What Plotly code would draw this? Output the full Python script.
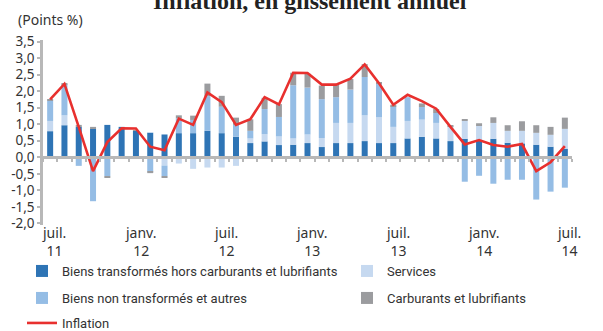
import plotly.graph_objects as go

# Monthly contributions to year-on-year inflation, July 2011 - July 2014 (points of %)
months = list(range(37))

biens_transformes = [0.79, 0.97, 0.92, 0.86, 0.98, 0.92, 0.80, 0.74, 0.69, 0.73,
                     0.73, 0.80, 0.73, 0.62, 0.43, 0.48, 0.37, 0.38, 0.43, 0.31,
                     0.43, 0.43, 0.49, 0.43, 0.43, 0.57, 0.62, 0.57, 0.49, 0.56,
                     0.50, 0.56, 0.44, 0.42, 0.38, 0.32, 0.26]
services = [0.31, 0.30, 0.0, 0.0, 0.0, 0.0, 0.0, 0.02, -0.25, -0.19,
            -0.35, -0.31, -0.31, -0.26, 0.14, 0.22, 0.26, 0.19, 0.26, 0.27,
            0.61, 0.61, 0.78, 0.78, 0.49, 0.53, 0.52, 0.47, 0.45, 0.54,
            0.47, 0.48, 0.36, 0.38, 0.36, 0.36, 0.60]
biens_non_transformes = [0.61, 0.94, -0.26, -1.33, -0.57, 0.0, 0.0, -0.43, -0.32, 0.45,
                         0.40, 1.05, 0.80, 0.36, 0.23, 0.76, 0.59, 1.61, 1.42, 1.18,
                         0.78, 1.01, 1.16, 1.01, 0.62, 0.72, 0.38, 0.30, 0.0, -0.74,
                         -0.56, -0.80, -0.68, -0.68, -1.28, -1.04, -0.92]
carburants = [0.04, 0.03, 0.06, 0.06, -0.03, -0.05, 0.02, -0.05, -0.04, 0.09,
              0.13, 0.38, 0.33, 0.22, 0.35, 0.34, 0.39, 0.38, 0.42, 0.41,
              0.38, 0.32, 0.39, 0.03, 0.05, 0.0, 0.11, 0.12, 0.03, 0.05,
              0.06, 0.17, 0.17, 0.29, 0.23, 0.24, 0.34]
inflation = [1.75, 2.22, 0.92, -0.42, 0.46, 0.88, 0.87, 0.32, 0.21, 1.17,
             0.98, 1.96, 1.67, 0.98, 1.15, 1.82, 1.60, 2.56, 2.55, 2.20,
             2.20, 2.38, 2.81, 2.24, 1.59, 1.89, 1.70, 1.47, 0.92, 0.39,
             0.52, 0.37, 0.32, 0.40, -0.42, -0.15, 0.34]

tick_positions = [0, 6, 12, 18, 24, 30, 36]
tick_labels = ["juil.<br>11", "janv.<br>12", "juil.<br>12", "janv.<br>13",
               "juil.<br>13", "janv.<br>14", "juil.<br>14"]
y_ticks = [3.5, 3.0, 2.5, 2.0, 1.5, 1.0, 0.5, 0.0, -0.5, -1.0, -1.5, -2.0]
y_tick_text = ["3,5", "3,0", "2,5", "2,0", "1,5", "1,0", "0,5", "0,0",
               "-0,5", "-1,0", "-1,5", "-2,0"]

W, H = 603, 331
M_L, M_R, M_T, M_B = 43, 31, 40, 106
Y_MIN, Y_MAX = -2.05, 3.55
plot_h = H - M_T - M_B


def paper_y(py):
    """Convert a pixel row (from the top of the page) to paper coordinates."""
    return (H - M_B - py) / plot_h


def paper_x(px):
    return (px - M_L) / (W - M_L - M_R)


TEXT = "#333333"
SANS = "Noto Sans, Open Sans, sans-serif"
NARROW = "Roboto, Liberation Sans, sans-serif"

fig = go.Figure()

# name, values, colour, legend id, legend position (px left, px row centre)
series = [
    ("Biens transformés hors carburants et lubrifiants", biens_transformes, "#2e74b5", "legend", (22, 271)),
    ("Services", services, "#c6d9f0", "legend2", (347, 271)),
    ("Biens non transformés et autres", biens_non_transformes, "#95bde5", "legend3", (22, 298)),
    ("Carburants et lubrifiants", carburants, "#9b9c9f", "legend4", (347, 298)),
]
legend_layout = {}
legend_common = dict(orientation="h", xanchor="left", yanchor="middle",
                     font=dict(family=NARROW, size=13, color=TEXT),
                     bgcolor="rgba(0,0,0,0)", itemclick=False)

for name, vals, color, lg, (lx, ly) in series:
    fig.add_trace(go.Bar(x=months, y=vals, name=name, marker_color=color,
                         marker_line_width=0, legend=lg))
    legend_layout[lg] = dict(x=paper_x(lx), y=paper_y(ly), **legend_common)

fig.add_trace(go.Scatter(x=months, y=inflation, name="Inflation", mode="lines",
                         line=dict(color="#e8302e", width=2.6), legend="legend5"))
legend_layout["legend5"] = dict(x=paper_x(22), y=paper_y(323), **legend_common)

zero_pos = (0 - Y_MIN) / (Y_MAX - Y_MIN)

fig.update_layout(
    width=W, height=H,
    margin=dict(l=M_L, r=M_R, t=M_T, b=M_B, autoexpand=False),
    paper_bgcolor="white", plot_bgcolor="white",
    barmode="relative", bargap=0.58,
    showlegend=True,
    xaxis=dict(range=[-0.5, 36.5], anchor="free", position=zero_pos,
               showline=True, linecolor="#b8b8b8", linewidth=3,
               tickvals=[i + 0.5 for i in range(-1, 37)], ticktext=[""] * 38,
               ticks="outside", ticklen=3, tickwidth=1.5, tickcolor="#b8b8b8",
               showgrid=False, zeroline=False),
    yaxis=dict(range=[Y_MIN, Y_MAX], tickvals=y_ticks, ticktext=y_tick_text,
               showline=True, linecolor="#b8b8b8", linewidth=2.5,
               ticks="outside", ticklen=3, tickwidth=1.5, tickcolor="#b8b8b8",
               tickfont=dict(family=SANS, size=13.5, color=TEXT),
               showgrid=False, zeroline=False),
    **legend_layout,
)

# Month / year labels under the plot
for pos, lab in zip(tick_positions, tick_labels):
    fig.add_annotation(x=pos + 0.3, y=paper_y(221), xref="x", yref="paper",
                       text=lab, showarrow=False, xanchor="center", yanchor="top",
                       font=dict(family=SANS, size=14, color=TEXT))

fig.add_annotation(x=paper_x(16), y=paper_y(8), xref="paper", yref="paper",
                   text="(Points %)", showarrow=False, xanchor="left", yanchor="top",
                   font=dict(family=SANS, size=14, color=TEXT))

fig.add_annotation(x=0.505, y=paper_y(16), xref="paper", yref="paper",
                   text="<b>Inflation, en glissement annuel</b>", showarrow=False,
                   xanchor="center", yanchor="bottom",
                   font=dict(family="Liberation Serif, DejaVu Serif, serif", size=24,
                             color="#222222"))

fig.write_html("out.html")
